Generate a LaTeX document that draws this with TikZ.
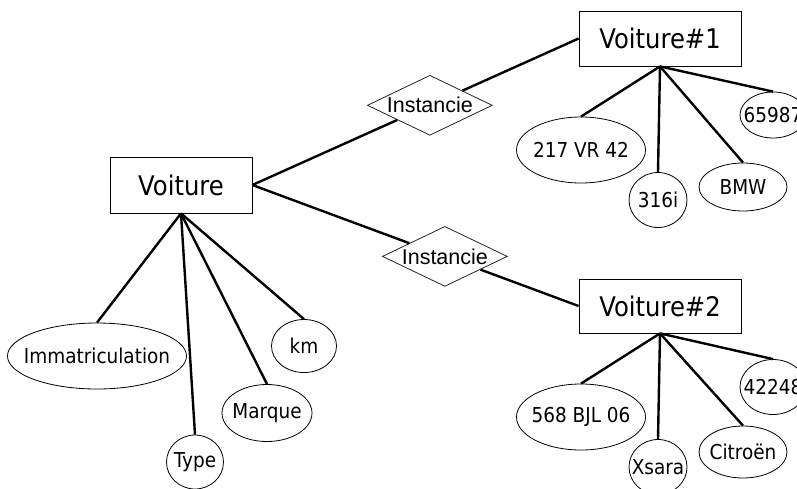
\documentclass[tikz,border=0pt]{standalone}
\usepackage{fontspec}
\setmainfont{DejaVu Sans}[FakeStretch=0.9]
\newfontfamily\arialf{Liberation Sans}
\usetikzlibrary{shapes.geometric}
\begin{document}
\begin{tikzpicture}[x=1pt,y=-1pt,
  entity/.style={draw,line width=0.8pt,rectangle,inner sep=0,font=\fontsize{27}{30}\selectfont},
  attr/.style={draw,line width=0.8pt,ellipse,inner sep=0},
  attrtext/.style={font=\fontsize{20.5}{24}\selectfont,inner sep=0},
  rel/.style={draw=black!85,line width=0.8pt,diamond,aspect=2,inner sep=0,fill=white,minimum width=125pt,minimum height=60pt,font=\arialf\fontsize{21.5}{24}\selectfont},
  link/.style={line width=2.4pt}]
\useasboundingbox (0,0) rectangle (797,488);
\clip (0,0) rectangle (797,488);
% entities
\node[entity,minimum width=142pt,minimum height=56pt] (v) at (181,185) {Voiture};
\node[entity,minimum width=162pt,minimum height=55pt] (v1) at (660,38.5) {Voiture\#1};
\node[entity,minimum width=162pt,minimum height=54pt] (v2) at (660,306) {Voiture\#2};
% attributes of Voiture
\node[attr,minimum width=179pt,minimum height=66pt,label={[attrtext]center:Immatriculation}] (imm) at (97,356) {};
\node[attr,minimum width=57pt,minimum height=54pt,label={[attrtext]center:Type}] (type) at (195,462) {};
\node[attr,minimum width=90pt,minimum height=57pt,label={[attrtext]center:Marque}] (marque) at (267,413) {};
\node[attr,minimum width=65pt,minimum height=53pt,label={[attrtext]center:km}] (km) at (304,346) {};
% attributes of Voiture#1
\node[attr,minimum width=129pt,minimum height=66pt,label={[attrtext]center:217 VR 42}] (a1) at (581,150) {};
\node[attr,minimum width=58pt,minimum height=55pt,label={[attrtext]center:316i}] (b1) at (658,200) {};
\node[attr,minimum width=88pt,minimum height=48pt,label={[attrtext]center:BMW}] (c1) at (743,187) {};
\node[attr,minimum width=66pt,minimum height=46pt,label={[attrtext]center:65987}] (d1) at (773,115) {};
% attributes of Voiture#2
\node[attr,minimum width=129pt,minimum height=66pt,label={[attrtext]center:568 BJL 06}] (a2) at (581,417) {};
\node[attr,minimum width=58pt,minimum height=55pt,label={[attrtext]center:Xsara}] (b2) at (658,467) {};
\node[attr,minimum width=88pt,minimum height=52pt,label={[attrtext]center:Citroën}] (c2) at (743,452) {};
\node[attr,minimum width=66pt,minimum height=55pt,label={[attrtext]center:42248}] (d2) at (773,387) {};
% relations
\path (v.east) -- (v1.west) node[rel,pos=0.544] (i1) {Instancie};
\path (v.east) -- (v2.west) node[rel,pos=0.59] (i2) {Instancie};
% links
\draw[link] (v.east) -- (i1) -- (v1.west);
\draw[link] (v.east) -- (i2) -- (v2.west);
\foreach \t in {imm,type,marque,km} \draw[link] (v.south) -- (\t.north);
\foreach \t in {a1,b1,c1,d1} \draw[link] (v1.south) -- (\t.north);
\foreach \t in {a2,b2,c2,d2} \draw[link] (v2.south) -- (\t.north);
\end{tikzpicture}
\end{document}
